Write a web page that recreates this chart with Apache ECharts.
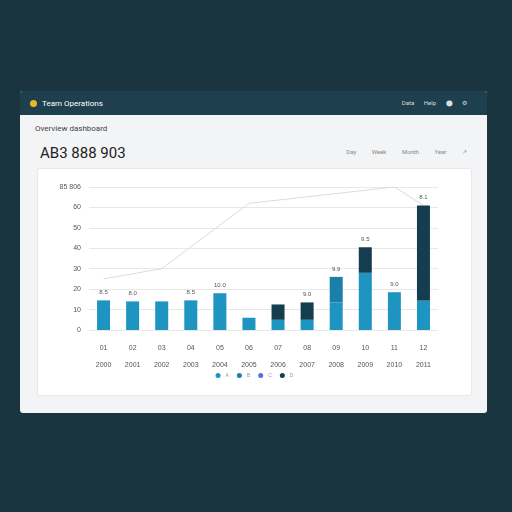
<!DOCTYPE html>
<html><head><meta charset="utf-8">
<script src="https://cdn.jsdelivr.net/npm/echarts@6/dist/echarts.min.js"></script>
<style>
body{margin:0;width:512px;height:512px;background:#1b3540;font-family:Roboto,"Noto Sans",sans-serif;overflow:hidden;position:relative}
#card{position:absolute;left:20px;top:91px;width:467px;height:322px;background:#f2f4f5;border-radius:3px;overflow:hidden}
#hdr{height:24px;background:#1d3f4e;color:#fff;font-size:8px;display:flex;align-items:center;padding:0 10px}
#dot{width:7px;height:7px;border-radius:50%;background:#e8b923;margin-right:5px}
#sub{position:absolute;left:15px;top:33px;font-size:8px;color:#444}
#big{position:absolute;left:20px;top:53px;font-size:15px;color:#222}
#right{position:absolute;right:20px;top:57px;font-size:6px;color:#888;word-spacing:14px}
#hr{position:absolute;right:20px;top:8px;font-size:6px;color:#ddd;word-spacing:8px}
#chart{position:absolute;left:17px;top:77px;width:433px;height:226px;background:#fff;border:1px solid #e6e8ea;border-radius:2px}
</style></head><body>
<div id="card">
<div id="hdr"><div id="dot"></div>Team Operations<span id="hr" style="position:absolute">Data Help ⬤ ⚙</span></div>
<div id="sub">Overview dashboard</div>
<div id="big">AB3 888 903</div>
<div id="right">Day Week Month Year ↗</div>
<div id="chart"></div>
</div>
<script>
const categories=['01\n2000','02\n2001','03\n2002','04\n2003','05\n2004','06\n2005','07\n2006','08\n2007','09\n2008','10\n2009','11\n2010','12\n2011'];
const baseValues=[14.5,14,14,14.5,18,6,5,5,13.5,28,18.5,14.5];
const midValues=[0,0,0,0,0,0,0,0,12.5,0,0,0];
const topValues=[0,0,0,0,0,0,7.5,8.5,0,12.5,0,46.5];
const lineValues=[25,null,30,null,null,62,null,null,null,null,70,61];
const totalLabels=['8.5','8.0','','8.5','10.0','','','9.0','9.9','9.5','9.0','8.1'];
const yTicks=[0,10,20,30,40,50,60,70];
const chart=echarts.init(document.getElementById('chart'));
const lab=(i)=>({show:true,position:'top',fontSize:6,color:'#555',formatter:()=>totalLabels[i]});
chart.setOption({
 animation:false,
 grid:{left:51,right:33,top:18,bottom:65},
 legend:{bottom:12,itemWidth:5,itemHeight:5,icon:'circle',textStyle:{fontSize:5,color:'#999'},data:['A','B','C','D']},
 xAxis:{type:'category',data:categories,axisLine:{show:false},axisTick:{show:false},axisLabel:{fontSize:7,color:'#555',lineHeight:17,margin:10}},
 yAxis:{type:'value',min:0,max:70,interval:10,axisLabel:{fontSize:7,color:'#555',formatter:v=>v===70?'85 806':String(v)},splitLine:{lineStyle:{color:'#e8e8e8'}}},
 series:[
  {name:'A',type:'bar',stack:'s',barWidth:13,data:baseValues,itemStyle:{color:'#1e94c0'}},
  {name:'B',type:'bar',stack:'s',data:midValues,itemStyle:{color:'#1b7fa8'}},
  {name:'D',type:'bar',stack:'s',data:topValues.map((v,i)=>({value:v,label:lab(i)})),itemStyle:{color:'#143d50'}},
  {name:'C',type:'line',data:lineValues,connectNulls:true,symbol:'none',lineStyle:{color:'#d8dcde',width:1},z:1}
 ]
});
</script></body></html>
